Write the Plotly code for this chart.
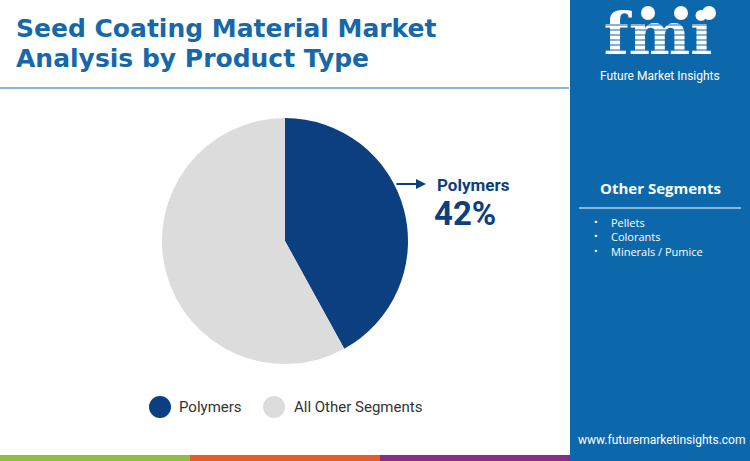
import plotly.graph_objects as go

W, H = 750, 461

# data
labels = ["Polymers", "All Other Segments"]
values = [42, 58]
colors = ["#0b3f80", "#dcdcdc"]
other_segments = ["Pellets", "Colorants", "Minerals / Pumice"]

title_lines = ["Seed Coating Material Market", "Analysis by Product Type"]
panel_blue = "#0d68ab"


def px(x):
    return x / W


def py(y):
    return 1 - y / H


fig = go.Figure()
fig.add_trace(go.Pie(labels=labels, values=values, sort=False, direction="clockwise",
                     rotation=0, textinfo="none", hoverinfo="label+percent",
                     marker=dict(colors=colors, line=dict(width=0)),
                     domain=dict(x=[px(162), px(408)], y=[py(364), py(118)]),
                     showlegend=False))

# logo text as a trace so the stripe shapes can sit on top of it
fig.add_trace(go.Scatter(x=[658], y=[39], mode="text", text=["<b>fmi</b>"],
                         textfont=dict(family="DejaVu Serif", size=58, color="white"),
                         cliponaxis=False, hoverinfo="skip", showlegend=False))

shapes = []
ann = []

# header line + right panel + bottom strip
shapes.append(dict(type="line", xref="paper", yref="paper", x0=0, x1=px(569), y0=py(88), y1=py(88),
                   line=dict(color="#8db6d6", width=2)))
shapes.append(dict(type="rect", xref="paper", yref="paper", x0=px(570), x1=1, y0=0, y1=1,
                   fillcolor=panel_blue, line=dict(width=0), layer="below"))
for i, c in enumerate(["#8dc13f", "#e95a24", "#8a2c87"]):
    shapes.append(dict(type="rect", xref="paper", yref="paper", x0=px(190 * i), x1=px(190 * (i + 1)),
                       y0=0, y1=py(455), fillcolor=c, line=dict(width=0)))

# title
for i, t in enumerate(title_lines):
    ann.append(dict(text="<b>" + t + "</b>", x=px(14), y=py(29 + 30 * i), xanchor="left", yanchor="middle",
                    font=dict(family="DejaVu Sans", size=25, color="#1668a9")))

# arrow + callout
ann.append(dict(text="", x=px(426), y=py(184), ax=-31, ay=0, showarrow=True, arrowhead=2,
                arrowsize=1, arrowwidth=2, arrowcolor="#0b3f80"))
ann.append(dict(text="<b>Polymers</b>", x=px(435), y=py(185), xanchor="left", yanchor="middle",
                font=dict(family="Roboto", size=17, color="#0b3f80")))
ann.append(dict(text="<b>42%</b>", x=px(432), y=py(213), xanchor="left", yanchor="middle",
                font=dict(family="Roboto", size=33, color="#0b3f80")))

# legend
for cx, tx, lab, col in [(160, 177, labels[0], colors[0]), (274, 292, labels[1], colors[1])]:
    shapes.append(dict(type="circle", xref="paper", yref="paper", x0=px(cx - 11), x1=px(cx + 11),
                       y0=py(418), y1=py(396), fillcolor=col, line=dict(width=0)))
    ann.append(dict(text=lab, x=px(tx), y=py(407), xanchor="left", yanchor="middle",
                    font=dict(family="Roboto", size=15, color="#333333")))

# logo stripes and icons
for yy in range(25, 66, 5):
    shapes.append(dict(type="line", xref="paper", yref="paper", x0=px(590), x1=px(730),
                       y0=py(yy), y1=py(yy), line=dict(color=panel_blue, width=1.2)))
for cx in [648, 681, 709]:
    shapes.append(dict(type="circle", xref="paper", yref="paper", x0=px(cx - 7), x1=px(cx + 7),
                       y0=py(20), y1=py(6), fillcolor="white", line=dict(width=0)))
ann.append(dict(text="Future Market Insights", x=px(660), y=py(76), xanchor="center", yanchor="middle",
                font=dict(family="Roboto", size=12, color="white")))

# other segments panel
ann.append(dict(text="<b>Other Segments</b>", x=px(660), y=py(188), xanchor="center", yanchor="middle",
                font=dict(family="Open Sans", size=15, color="white")))
shapes.append(dict(type="line", xref="paper", yref="paper", x0=px(579), x1=px(741), y0=py(208), y1=py(208),
                   line=dict(color="#8db6d6", width=2)))
for i, s in enumerate(other_segments):
    ann.append(dict(text="\u2022", x=px(596), y=py(222 + 14.5 * i), xanchor="center", yanchor="middle",
                    font=dict(family="Roboto", size=11, color="white")))
    ann.append(dict(text=s, x=px(609), y=py(222 + 14.5 * i), xanchor="left", yanchor="middle",
                    font=dict(family="Open Sans", size=11, color="white")))

ann.append(dict(text="www.futuremarketinsights.com", x=px(661), y=py(440), xanchor="center", yanchor="middle",
                font=dict(family="Roboto", size=12, color="white")))

for a in ann:
    a.setdefault("xref", "paper")
    a.setdefault("yref", "paper")
    a.setdefault("showarrow", False)
    if a["showarrow"]:
        a["axref"] = "pixel"
        a["ayref"] = "pixel"

fig.update_layout(width=W, height=H, margin=dict(l=0, r=0, t=0, b=0),
                  paper_bgcolor="white", plot_bgcolor="rgba(0,0,0,0)",
                  xaxis=dict(range=[0, W], visible=False, fixedrange=True),
                  yaxis=dict(range=[H, 0], visible=False, fixedrange=True),
                  shapes=shapes, annotations=ann, showlegend=False)

fig.write_html("out.html", config={"displayModeBar": False},
               post_script="document.body.style.margin='0';")
